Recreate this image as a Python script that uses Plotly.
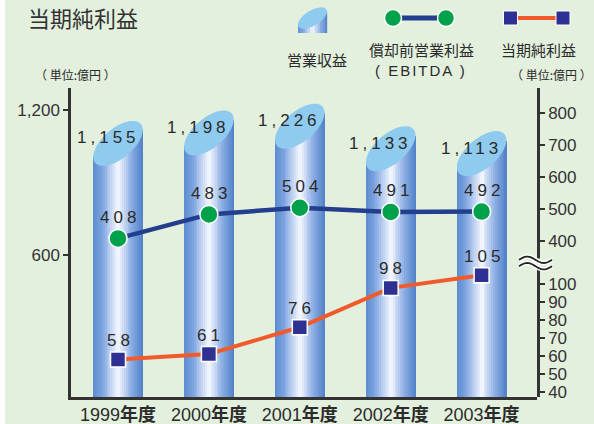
import plotly.graph_objects as go
import numpy as np

# ---------------- data ----------------
years = ["1999年度", "2000年度", "2001年度", "2002年度", "2003年度"]
revenue = [1155, 1198, 1226, 1133, 1113]          # 営業収益 (left axis)
ebitda = [408, 483, 504, 491, 492]                 # 償却前営業利益 (right, upper)
net_income = [58, 61, 76, 98, 105]                 # 当期純利益 (right, lower)
left_ticks = [600, 1200]
right_upper_ticks = [400, 500, 600, 700, 800]
right_lower_ticks = [40, 50, 60, 70, 80, 90, 100]

# ---------------- geometry helpers ----------------
WIDTH, HEIGHT = 594, 424
L, R, T, B = 71, 537, 88, 397


def px(x):
    return (x - L) / (R - L)


def py(y):
    return (B - y) / (B - T)


BG = "#e3f0de"
FONT = "Liberation Sans, Arial, Noto Sans CJK JP, sans-serif"
CJK = "Noto Sans CJK JP, sans-serif"
TXT = "#2b2b2b"

# left axis scale
k_left = 145 / 600.0                      # px per unit
y_left_range = [1200 - (B - 110) / k_left, 1200 + (110 - T) / k_left]
x_range = [-(118 - L) / 90.9, 4 + (R - 481.6) / 90.9]
fb = (B - 263) / (B - T)                  # break position (paper fraction)

BAR_W = 0.545
N = 26
tilt_u = 13.5 / k_left                    # ellipse conjugate radius vertical part
tilt_v = 18.0 / k_left
top_off = np.hypot(13.5, 18.0) / k_left   # centre -> top of ellipse


def grad(t):
    stops = [(0.0, (92, 140, 208)), (0.18, (124, 164, 224)), (0.5, (246, 248, 255)),
             (0.78, (136, 172, 226)), (1.0, (80, 128, 200))]
    for (t0, c0), (t1, c1) in zip(stops[:-1], stops[1:]):
        if t <= t1:
            f = (t - t0) / (t1 - t0)
            c = [int(round(a + (b - a) * f)) for a, b in zip(c0, c1)]
            return "rgb(%d,%d,%d)" % tuple(c)
    return "rgb(%d,%d,%d)" % stops[-1][1]


fig = go.Figure()

# cylinder bodies: vertical strips with slanted tops
centres = [v - top_off for v in revenue]
for i in range(N):
    t = (i + 0.5) / N - 0.5
    heights = [c + 2 * tilt_u * t for c in centres]
    fig.add_trace(go.Bar(
        x=list(range(len(years))), y=heights,
        offset=-BAR_W / 2 + i * BAR_W / N, width=BAR_W / N * 1.08,
        marker=dict(color=grad((i + 0.5) / N), line=dict(width=0)),
        hoverinfo="skip", showlegend=False, xaxis="x", yaxis="y"))

shapes = []
# ellipse tops
th = np.linspace(0, 2 * np.pi, 60)
for i, c in enumerate(centres):
    xs = i + BAR_W / 2 * np.cos(th)
    ys = c + tilt_u * np.cos(th) + tilt_v * np.sin(th)
    path = "M " + " L ".join("%.4f,%.3f" % (a, b) for a, b in zip(xs, ys)) + " Z"
    shapes.append(dict(type="path", xref="x", yref="y", path=path,
                       fillcolor="#8fcaef", line=dict(width=0), layer="above"))

# EBITDA line
fig.add_trace(go.Scatter(
    x=list(range(len(years))), y=ebitda, xaxis="x", yaxis="y2",
    mode="lines+markers", cliponaxis=False,
    line=dict(color="#233e8c", width=4.5),
    marker=dict(size=18, color="#00a14b", line=dict(color="white", width=1.5)),
    hoverinfo="skip", showlegend=False))

# Net income line
fig.add_trace(go.Scatter(
    x=list(range(len(years))), y=net_income, xaxis="x", yaxis="y3",
    mode="lines+markers", cliponaxis=False,
    line=dict(color="#f15a2b", width=4),
    marker=dict(size=15, symbol="square", color="#2e3192", line=dict(color="white", width=1.5)),
    hoverinfo="skip", showlegend=False))


def spaced(s, sp=4):
    return '<span style="letter-spacing:%dpx">%s</span>' % (sp, s)


ann = []
for i, v in enumerate(revenue):
    ann.append(dict(x=i, y=v, xref="x", yref="y", text=spaced("{:,}".format(v)),
                    showarrow=False, xshift=-10, yshift=-17,
                    font=dict(family=FONT, size=17, color=TXT)))
for i, v in enumerate(ebitda):
    ann.append(dict(x=i, y=v, xref="x", yref="y2", text=spaced(str(v)),
                    showarrow=False, xshift=2, yshift=21,
                    font=dict(family=FONT, size=17, color=TXT)))
for i, v in enumerate(net_income):
    ann.append(dict(x=i, y=v, xref="x", yref="y3", text=spaced(str(v)),
                    showarrow=False, xshift=2, yshift=19,
                    font=dict(family=FONT, size=17, color=TXT)))


def ptext(x, y, text, size, family=CJK, color=TXT, xanchor="center"):
    ann.append(dict(x=px(x), y=py(y), xref="paper", yref="paper", text=text,
                    showarrow=False, xanchor=xanchor, yanchor="middle", borderpad=0,
                    font=dict(family=family, size=size, color=color)))


ptext(83, 17, "当期純利益", 22, color="#333333")
ptext(75, 75, "（ 単位:億円 ）", 12)
ptext(593, 74, "（ 単位:億円 ）", 12, xanchor="right")
ptext(317, 60, "営業収益", 15)
ptext(421, 49, "償却前営業利益", 15)
ptext(421, 70, spaced("( EBITDA )", 2), 15, family=FONT)
ptext(538, 49, "当期純利益", 15)

# white strip at left edge
shapes.append(dict(type="rect", xref="paper", yref="paper", x0=px(-5), x1=px(5),
                   y0=py(430), y1=py(-5), fillcolor="white", line=dict(width=0), layer="below"))

# legend: cylinder icon
n_icon = 12
ix0, ix1 = 298, 327
icx, icy = (ix0 + ix1) / 2, 18
for i in range(n_icon):
    xa = ix0 + (ix1 - ix0) * i / n_icon
    xb = ix0 + (ix1 - ix0) * (i + 1.08) / n_icon
    tt = (i + 0.5) / n_icon - 0.5
    top = icy - 2 * 6.5 * tt
    shapes.append(dict(type="rect", xref="paper", yref="paper", x0=px(xa), x1=px(xb),
                       y0=py(33), y1=py(top), fillcolor=grad((i + 0.5) / n_icon),
                       line=dict(width=0), layer="above"))
exs = icx + 14.5 * np.cos(th)
eys = icy - 6.5 * np.cos(th) + 8.5 * np.sin(th)
shapes.append(dict(type="path", xref="paper", yref="paper",
                   path="M " + " L ".join("%.5f,%.5f" % (px(a), py(b)) for a, b in zip(exs, eys)) + " Z",
                   fillcolor="#8fcaef", line=dict(width=0), layer="above"))

# legend: EBITDA icon
shapes.append(dict(type="line", xref="paper", yref="paper", x0=px(393), x1=px(446),
                   y0=py(18), y1=py(18), line=dict(color="#233e8c", width=5), layer="above"))
for cx in (393, 446):
    shapes.append(dict(type="circle", xref="paper", yref="paper", x0=px(cx - 8.5), x1=px(cx + 8.5),
                       y0=py(18 + 8.5), y1=py(18 - 8.5), fillcolor="#00a14b",
                       line=dict(color="white", width=1.5), layer="above"))
# legend: net income icon
shapes.append(dict(type="line", xref="paper", yref="paper", x0=px(510), x1=px(563),
                   y0=py(18), y1=py(18), line=dict(color="#f15a2b", width=4), layer="above"))
for cx in (510.5, 563):
    shapes.append(dict(type="rect", xref="paper", yref="paper", x0=px(cx - 7), x1=px(cx + 7),
                       y0=py(18 + 7), y1=py(18 - 7), fillcolor="#2e3192",
                       line=dict(color="white", width=1), layer="above"))

# axis break symbol
shapes.append(dict(type="rect", xref="paper", yref="paper", x0=px(530), x1=px(542),
                   y0=py(267.5), y1=py(258.5), fillcolor=BG, line=dict(width=0), layer="above"))
ss = np.linspace(0, 1, 30)
for col, wd in (("white", 4.5), ("#222222", 1.8)):
    for dy in (-3.2, 3.2):
        wx = 519 + 33 * ss
        wy = 263 + dy - 3.2 * np.sin(2 * np.pi * ss)
        p = "M " + " L ".join("%.5f,%.5f" % (px(a), py(b)) for a, b in zip(wx, wy))
        shapes.append(dict(type="path", xref="paper", yref="paper", path=p,
                           line=dict(color=col, width=wd), layer="above"))

axis_common = dict(showgrid=False, zeroline=False, showline=True, linecolor="#333333",
                   linewidth=2.5, ticks="outside", ticklen=5, tickwidth=1.5, automargin=False,
                   tickcolor="#333333", tickfont=dict(family=FONT, size=17, color="#333333"))

fig.update_layout(
    width=WIDTH, height=HEIGHT,
    margin=dict(l=L, r=WIDTH - R, t=T, b=HEIGHT - B),
    paper_bgcolor=BG, plot_bgcolor="rgba(0,0,0,0)",
    barmode="overlay", bargap=0,
    showlegend=False,
    xaxis=dict(range=x_range, tickvals=list(range(len(years))),
               ticktext=[y[:4] + "<b>" + y[4:] + "</b>" for y in years],
               showgrid=False, zeroline=False, showline=True, linecolor="#333333",
               linewidth=2.5, ticks="", automargin=False,
               tickfont=dict(family=FONT, size=18, color=TXT)),
    yaxis=dict(range=y_left_range, tickvals=left_ticks, tickformat=",d", **axis_common),
    yaxis2=dict(domain=[fb, 1], anchor="x", side="right",
                range=[400 - (263 - 241) / 0.32, 800 + (113 - T) / 0.32],
                tickvals=right_upper_ticks, **axis_common),
    yaxis3=dict(domain=[0, fb], anchor="x", side="right",
                range=[40 - (B - 391.7) / 1.79, 40 + (391.7 - 263) / 1.79],
                tickvals=right_lower_ticks, **axis_common),
    shapes=shapes, annotations=ann,
)

fig.write_html("out.html")
